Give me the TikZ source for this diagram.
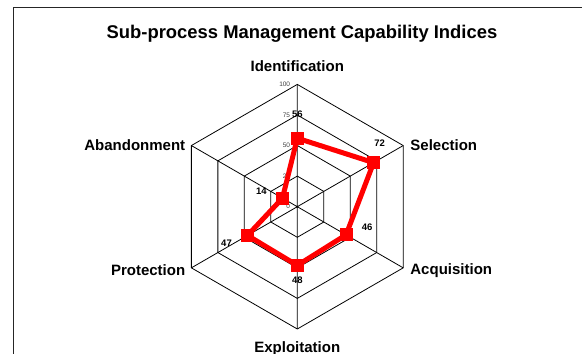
\documentclass[tikz,border=0pt]{standalone}
\usepackage{fontspec}
\setmainfont{Liberation Sans}
\usetikzlibrary{positioning}

\begin{document}
\begin{tikzpicture}[x=1pt,y=1pt,line join=miter]
\tikzstyle{axis label}=[font=\bfseries\fontsize{15}{15}\selectfont,inner sep=2pt]
\tikzstyle{value}=[font=\bfseries\fontsize{9.5}{10}\selectfont,inner sep=0pt]
\tikzstyle{tick label}=[font=\fontsize{6.5}{7}\selectfont,text=black!75,inner sep=0pt,anchor=east]
\tikzstyle{grid}=[draw=black,line width=0.8pt]
\tikzstyle{series}=[draw=red,line width=5pt]
\tikzstyle{datapoint}=[fill=red,minimum size=13pt,inner sep=0pt]
\useasboundingbox (0,0) rectangle (582,354);
% frame and title
\draw[line width=1pt,black!85] (13,0) -- (13,346) -- (582,346);
\node[font=\bfseries\fontsize{18.4}{19}\selectfont,anchor=base] (title) at (302,315.7) {Sub-process Management Capability Indices};
\begin{scope}[shift={(297.3,147.3)}]
\coordinate (c) at (0,0);
\coordinate (v1) at (90:122.3pt);
\coordinate (v2) at (30:122.3pt);
\coordinate (v3) at (-30:122.3pt);
\coordinate (v4) at (-90:122.3pt);
\coordinate (v5) at (210:122.3pt);
\coordinate (v6) at (150:122.3pt);
% rings and spokes
\foreach \r in {30.6,61.2,91.7,122.3}
  \draw[grid] (90:\r pt) -- (30:\r pt) -- (-30:\r pt) -- (-90:\r pt) -- (210:\r pt) -- (150:\r pt) -- cycle;
\draw[grid] (c) -- (v1) (c) -- (v2) (c) -- (v3) (c) -- (v4) (c) -- (v5) (c) -- (v6);
\node[tick label] (t0) at (-7,0) {0};
\node[tick label] (t25) at (-7,30.6) {25};
\node[tick label] (t50) at (-7,61.2) {50};
\node[tick label] (t75) at (-7,91.7) {75};
\node[tick label] (t100) at (-7,122.3) {100};
% axis names
\node[axis label,above=11pt of v1] (idf) {Identification};
\node[axis label,right=5pt of v2] (sel) {Selection};
\node[axis label,right=5pt of v3,yshift=-2.5pt] (acq) {Acquisition};
\node[axis label,below=10pt of v4] (exp) {Exploitation};
\node[axis label,left=4pt of v5,yshift=-2.5pt] (pro) {Protection};
\node[axis label,left=4pt of v6] (aba) {Abandonment};
% data
\coordinate (d1) at (90:68.5pt);
\coordinate (d2) at (30:88.1pt);
\coordinate (d3) at (-30:56.3pt);
\coordinate (d4) at (-90:58.7pt);
\coordinate (d5) at (210:57.5pt);
\coordinate (d6) at (150:17.1pt);
\draw[series] (d1) -- (d2) -- (d3) -- (d4) -- (d5) -- (d6) -- cycle;
\node[datapoint] (m1) at (d1) {};
\node[datapoint] (m2) at (d2) {};
\node[datapoint] (m3) at (d3) {};
\node[datapoint] (m4) at (d4) {};
\node[datapoint] (m5) at (d5) {};
\node[datapoint] (m6) at (d6) {};
\node[value] (l1) at ([yshift=24pt]d1) {56};
\node[value] (l2) at ([shift={(6pt,19pt)}]d2) {72};
\node[value] (l3) at ([shift={(21pt,8pt)}]d3) {46};
\node[value] (l4) at ([yshift=-15pt]d4) {48};
\node[value] (l5) at ([shift={(-21pt,-8pt)}]d5) {47};
\node[value] (l6) at ([shift={(-21pt,7pt)}]d6) {14};
\end{scope}
\end{tikzpicture}
\end{document}
